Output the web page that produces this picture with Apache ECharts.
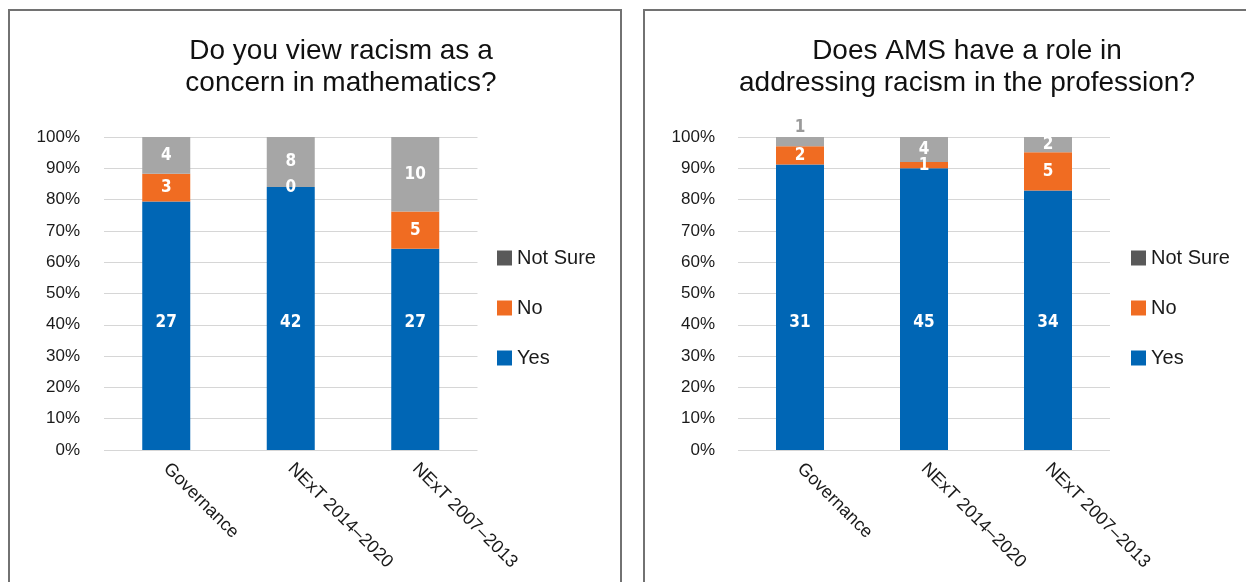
<!DOCTYPE html>
<html>
<head>
<meta charset="utf-8">
<script src="https://cdn.jsdelivr.net/npm/echarts@6/dist/echarts.min.js"></script>
<style>
  html, body { margin: 0; padding: 0; background: #fff; }
  #wrap { position: relative; width: 1246px; height: 582px; overflow: hidden; }
  .panel { position: absolute; top: 9px; height: 620px; border: 2px solid #727272; box-sizing: border-box; }
  #chart { position: absolute; left: 0; top: 0; width: 1246px; height: 582px; }
</style>
</head>
<body>
<div id="wrap">
  <div class="panel" style="left:8px;width:614px;"></div>
  <div class="panel" style="left:643px;width:620px;"></div>
  <div id="chart"></div>
</div>
<script>
// ---- data ----
const categories = ['Governance', 'NExT 2014\u20132020', 'NExT 2007\u20132013'];
const yTickLabels = ['0%','10%','20%','30%','40%','50%','60%','70%','80%','90%','100%'];
const seriesNames = ['Yes', 'No', 'Not Sure'];

const titleLeft = 'Do you view racism as a\nconcern in mathematics?';
const yesLeft = [27, 42, 27];
const noLeft = [3, 0, 5];
const notSureLeft = [4, 8, 10];

const titleRight = 'Does AMS have a role in\naddressing racism in the profession?';
const yesRight = [31, 45, 34];
const noRight = [2, 1, 5];
const notSureRight = [1, 4, 2];

// ---- styles ----
const BLUE = '#0066b5';
const ORANGE = '#f06c22';
const GREY = '#a6a6a6';
const LEGEND_GREY = '#595959';
const TXT = '#1a1a1a';
const LABEL_FONT = '"DejaVu Sans Condensed", "Liberation Sans Narrow", "Liberation Sans", sans-serif';
const FONT = '"Liberation Sans", Arial, sans-serif';

function pctData(part, a, b, c) {
  return part.map((v, i) => ({ value: 100 * v / (a[i] + b[i] + c[i]), count: v }));
}

function makeSeries(idx, yes, no, ns, smallTopIdx) {
  const stack = 'S' + idx;
  const baseLabel = {
    show: true,
    color: '#fff',
    fontFamily: LABEL_FONT,
    fontWeight: 'bold',
    fontSize: 17,
    lineHeight: 18,
    formatter: p => String(p.data.count)
  };
  const nsData = pctData(ns, yes, no, ns);
  if (smallTopIdx != null) {
    nsData[smallTopIdx].label = { position: 'top', distance: 0, color: '#9a9a9a' };
  }
  return [
    {
      name: 'Yes', type: 'bar', stack, xAxisIndex: idx, yAxisIndex: idx, barWidth: 48,
      itemStyle: { color: BLUE },
      label: Object.assign({}, baseLabel, { position: 'insideBottom', distance: 118 }),
      data: pctData(yes, yes, no, ns)
    },
    {
      name: 'No', type: 'bar', stack, xAxisIndex: idx, yAxisIndex: idx, barWidth: 48,
      itemStyle: { color: ORANGE },
      label: Object.assign({}, baseLabel, { position: 'inside' }),
      data: pctData(no, yes, no, ns)
    },
    {
      name: 'Not Sure', type: 'bar', stack, xAxisIndex: idx, yAxisIndex: idx, barWidth: 48,
      itemStyle: { color: GREY },
      label: Object.assign({}, baseLabel, { position: 'inside' }),
      data: nsData
    }
  ];
}

function makeXAxis(idx) {
  return {
    type: 'category', gridIndex: idx, data: categories,
    axisLine: { show: false }, axisTick: { show: false },
    axisLabel: { rotate: -45, margin: 16, fontSize: 18, color: TXT, fontFamily: FONT, interval: 0 }
  };
}
function makeYAxis(idx, margin) {
  return {
    type: 'value', gridIndex: idx, min: 0, max: 100, interval: 10,
    axisLine: { show: false }, axisTick: { show: false },
    splitLine: { lineStyle: { color: '#d6d6d6', width: 1 } },
    axisLabel: { margin, fontSize: 17, color: TXT, fontFamily: FONT,
      formatter: v => yTickLabels[Math.round(v / 10)] }
  };
}
function makeLegend(left) {
  return {
    orient: 'vertical', left, top: 248, padding: 0, selectedMode: false,
    itemWidth: 15, itemHeight: 15, itemGap: 30, icon: 'rect',
    textStyle: { fontSize: 20, color: TXT, fontFamily: FONT, lineHeight: 15 },
    data: [
      { name: 'Not Sure', itemStyle: { color: LEGEND_GREY } },
      { name: 'No', itemStyle: { color: ORANGE } },
      { name: 'Yes', itemStyle: { color: BLUE } }
    ]
  };
}

const chart = echarts.init(document.getElementById('chart'), null, { renderer: 'canvas' });
chart.setOption({
  backgroundColor: 'transparent',
  animation: false,
  title: [
    { text: titleLeft, left: 336, top: 30, textAlign: 'center',
      textStyle: { fontSize: 28, fontWeight: 'normal', color: '#111', fontFamily: FONT, lineHeight: 32 } },
    { text: titleRight, left: 962, top: 30, textAlign: 'center',
      textStyle: { fontSize: 28, fontWeight: 'normal', color: '#111', fontFamily: FONT, lineHeight: 32 } }
  ],
  legend: [makeLegend(497), makeLegend(1131)],
  grid: [
    { left: 104, width: 373.5, top: 137, height: 313 },
    { left: 738, width: 372, top: 137, height: 313 }
  ],
  xAxis: [makeXAxis(0), makeXAxis(1)],
  yAxis: [makeYAxis(0, 24), makeYAxis(1, 23)],
  series: [].concat(
    makeSeries(0, yesLeft, noLeft, notSureLeft, null),
    makeSeries(1, yesRight, noRight, notSureRight, 0)
  )
});
</script>
</body>
</html>
